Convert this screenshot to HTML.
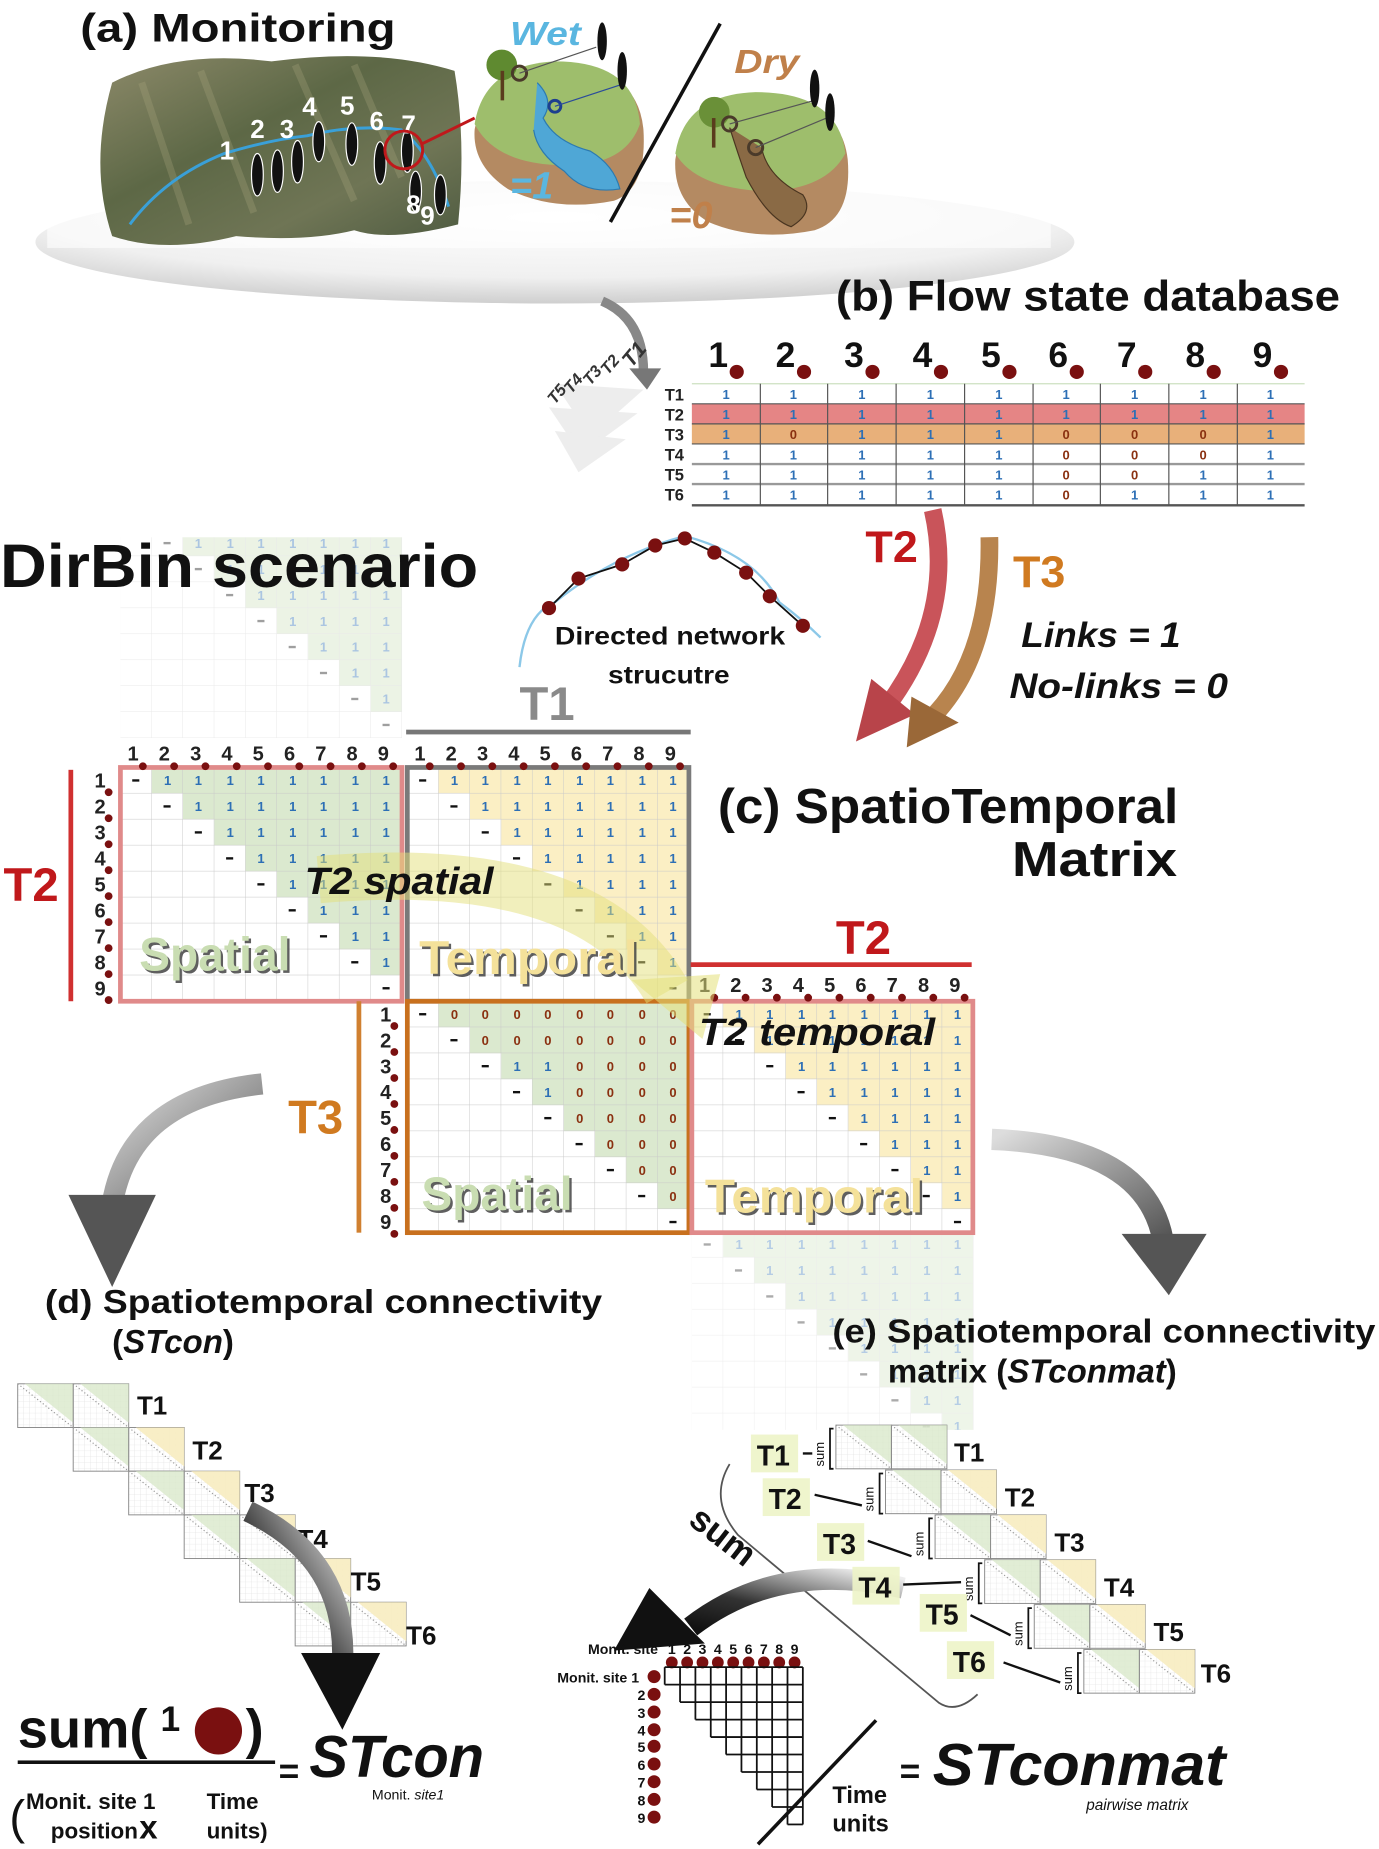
<!DOCTYPE html>
<html><head><meta charset="utf-8">
<style>
html,body{margin:0;padding:0;background:#fff;}
svg{display:block;}
text{font-family:"Liberation Sans",sans-serif;}
</style></head>
<body>
<svg width="1379" height="1849" viewBox="0 0 1168 1566" preserveAspectRatio="none" xmlns="http://www.w3.org/2000/svg">
<defs>
 <pattern id="gp" x="0" y="0" width="26.5" height="22" patternUnits="userSpaceOnUse">
  <path d="M26.5 0V22H0" fill="none" stroke="#c9c9c9" stroke-width="0.8"/>
 </pattern>
 <pattern id="gs" x="0" y="0" width="5" height="5" patternUnits="userSpaceOnUse">
  <path d="M5 0V5H0" fill="none" stroke="#ddd" stroke-width="0.5"/>
 </pattern>
 <path id="stair" d="M26.5,0 H238.5 V176 h-26.5 v-22 h-26.5 v-22 h-26.5 v-22 h-26.5 v-22 h-26.5 v-22 h-26.5 v-22 h-26.5 v-22 h-26.5 Z"/>
 <g id="grid"><rect width="238.5" height="198" fill="url(#gp)"/></g>
 <g id="dash" fill="#111">
  <rect x="10" y="10" width="6" height="2"/><rect x="36.5" y="32" width="6" height="2"/><rect x="63" y="54" width="6" height="2"/><rect x="89.5" y="76" width="6" height="2"/><rect x="116" y="98" width="6" height="2"/><rect x="142.5" y="120" width="6" height="2"/><rect x="169" y="142" width="6" height="2"/><rect x="195.5" y="164" width="6" height="2"/><rect x="222" y="186" width="6" height="2"/>
 </g>
 <g id="ones" font-size="11" font-weight="bold" fill="#2d6fb5" text-anchor="middle">
  <text x="40 66 93 119 146 172 199 225" y="15">11111111</text>
  <text x="66 93 119 146 172 199 225" y="37">1111111</text>
  <text x="93 119 146 172 199 225" y="59">111111</text>
  <text x="119 146 172 199 225" y="81">11111</text>
  <text x="146 172 199 225" y="103">1111</text>
  <text x="172 199 225" y="125">111</text>
  <text x="199 225" y="147">11</text>
  <text x="225" y="169">1</text>
 </g>
 <g id="hdr" font-size="17" font-weight="bold" fill="#222">
  <text x="6" y="0">1</text><text x="32.5" y="0">2</text><text x="59" y="0">3</text><text x="85.5" y="0">4</text><text x="112" y="0">5</text><text x="138.5" y="0">6</text><text x="165" y="0">7</text><text x="191.5" y="0">8</text><text x="218" y="0">9</text>
  <g fill="#7a1010"><circle cx="19" cy="5" r="3.3"/><circle cx="45.5" cy="5" r="3.3"/><circle cx="72" cy="5" r="3.3"/><circle cx="98.5" cy="5" r="3.3"/><circle cx="125" cy="5" r="3.3"/><circle cx="151.5" cy="5" r="3.3"/><circle cx="178" cy="5" r="3.3"/><circle cx="204.5" cy="5" r="3.3"/><circle cx="231" cy="5" r="3.3"/></g>
 </g>
 <g id="rows" font-size="17" font-weight="bold" fill="#222">
  <text x="0" y="17">1</text><text x="0" y="39">2</text><text x="0" y="61">3</text><text x="0" y="83">4</text><text x="0" y="105">5</text><text x="0" y="127">6</text><text x="0" y="149">7</text><text x="0" y="171">8</text><text x="0" y="193">9</text>
  <g fill="#7a1010"><circle cx="12" cy="21" r="3.3"/><circle cx="12" cy="43" r="3.3"/><circle cx="12" cy="65" r="3.3"/><circle cx="12" cy="87" r="3.3"/><circle cx="12" cy="109" r="3.3"/><circle cx="12" cy="131" r="3.3"/><circle cx="12" cy="153" r="3.3"/><circle cx="12" cy="175" r="3.3"/><circle cx="12" cy="197" r="3.3"/></g>
 </g>
 <g id="boxG"><rect width="47" height="37" fill="url(#gs)" stroke="#888" stroke-width="0.8"/><path d="M6,0 H47 V33 Z" fill="#d9e8cb" opacity="0.8"/><line x1="0" y1="0" x2="47" y2="37" stroke="#999" stroke-dasharray="1 2"/></g>
 <g id="boxY"><rect width="47" height="37" fill="url(#gs)" stroke="#888" stroke-width="0.8"/><path d="M6,0 H47 V33 Z" fill="#f7ecc0" opacity="0.9"/><line x1="0" y1="0" x2="47" y2="37" stroke="#999" stroke-dasharray="1 2"/></g>
 <linearGradient id="terr" x1="0" y1="0" x2="1" y2="1">
  <stop offset="0" stop-color="#8d8a6a"/><stop offset="0.4" stop-color="#5d6846"/><stop offset="0.7" stop-color="#6f7555"/><stop offset="1" stop-color="#4d5a40"/>
 </linearGradient>
 <radialGradient id="glow" cx="0.5" cy="0.3" r="0.7">
  <stop offset="0" stop-color="#fff"/><stop offset="0.7" stop-color="#f0f0f0"/><stop offset="1" stop-color="#cfcfcf"/>
 </radialGradient>
 <linearGradient id="grayar" x1="0" y1="0" x2="1" y2="1">
  <stop offset="0" stop-color="#ddd"/><stop offset="1" stop-color="#555"/>
 </linearGradient>
 <linearGradient id="blkar" x1="1" y1="0" x2="0" y2="1">
  <stop offset="0" stop-color="#eee"/><stop offset="0.6" stop-color="#333"/><stop offset="1" stop-color="#111"/>
 </linearGradient>
 <clipPath id="cTop"><rect x="95" y="455" width="250" height="170"/></clipPath>
 <clipPath id="cBot"><rect x="580" y="1046" width="250" height="165"/></clipPath>
</defs>

<!-- (a) Monitoring -->
<ellipse cx="470" cy="205" rx="440" ry="52" fill="url(#glow)"/>
<rect x="40" y="150" width="850" height="60" fill="#fff" opacity="0.6"/>
<path d="M95,70 Q150,42 230,52 Q320,40 385,60 Q395,120 388,190 Q330,205 300,195 Q260,205 200,200 Q140,215 95,200 Q75,140 95,70 Z" fill="url(#terr)"/>
<path d="M120,70 L160,190 M170,60 L215,180 M250,55 L300,170 M300,55 L340,150" stroke="#a9a57f" stroke-width="6" opacity="0.3" fill="none"/>
<path d="M110,190 Q140,150 190,130 Q230,118 260,115 Q300,105 340,110 Q365,130 380,175" stroke="#3aa0d8" stroke-width="2.5" fill="none"/>
<g fill="#111" stroke="#fff" stroke-width="1">
 <ellipse cx="218" cy="148" rx="5" ry="18"/><ellipse cx="235" cy="145" rx="5" ry="18"/><ellipse cx="252" cy="137" rx="5" ry="18"/><ellipse cx="270" cy="120" rx="5" ry="17"/><ellipse cx="298" cy="122" rx="5" ry="18"/><ellipse cx="322" cy="138" rx="5" ry="18"/><ellipse cx="345" cy="128" rx="5" ry="18"/><ellipse cx="352" cy="162" rx="5" ry="17"/><ellipse cx="373" cy="165" rx="5" ry="17"/>
</g>
<g font-size="22" font-weight="bold" fill="#fff">
 <text x="186" y="135">1</text><text x="212" y="117">2</text><text x="237" y="117">3</text><text x="256" y="98">4</text><text x="288" y="97">5</text><text x="313" y="110">6</text><text x="340" y="113">7</text><text x="344" y="181">8</text><text x="356" y="190">9</text>
</g>
<circle cx="342" cy="127" r="16" fill="none" stroke="#c0181b" stroke-width="2.5"/>
<line x1="357" y1="122" x2="402" y2="100" stroke="#c0181b" stroke-width="2.5"/>
<!-- wet island -->
<path d="M402,110 Q410,60 470,55 Q540,55 545,110 Q548,160 520,170 Q470,180 430,160 Q400,140 402,110 Z" fill="#b48a62"/>
<path d="M402,105 Q410,55 470,52 Q538,52 542,105 Q530,140 480,140 Q420,140 402,105 Z" fill="#9ebe6c"/>
<path d="M455,70 Q470,85 460,100 Q470,120 500,128 Q520,140 525,160 Q495,165 478,145 Q455,130 452,110" fill="#4fa7d6" stroke="#2c7ab0"/>
<circle cx="425" cy="55" r="13" fill="#5f8a30"/><rect x="424" y="60" width="3" height="25" fill="#5a3b1d"/>
<circle cx="440" cy="62" r="6" fill="none" stroke="#4a3a2a" stroke-width="2.5"/><circle cx="470" cy="90" r="5" fill="none" stroke="#1d3f8f" stroke-width="2.5"/>
<line x1="440" y1="62" x2="505" y2="40" stroke="#555"/><line x1="470" y1="90" x2="525" y2="72" stroke="#2a4b9b"/>
<ellipse cx="510" cy="35" rx="4" ry="16" fill="#111"/><ellipse cx="527" cy="60" rx="4" ry="16" fill="#111"/>
<text x="432" y="38" font-size="28" font-weight="bold" font-style="italic" fill="#5ab6e0" textLength="60" lengthAdjust="spacingAndGlyphs">Wet</text>
<text x="432" y="168" font-size="32" font-weight="bold" font-style="italic" fill="#5ab6e0">=1</text>
<line x1="517" y1="188" x2="610" y2="20" stroke="#111" stroke-width="3"/>
<!-- dry island -->
<path d="M572,135 Q580,85 640,82 Q712,82 718,135 Q722,185 690,195 Q640,205 600,188 Q570,170 572,135 Z" fill="#b48a62"/>
<path d="M572,130 Q580,80 640,78 Q710,78 716,130 Q700,160 650,162 Q590,160 572,130 Z" fill="#9ebe6c"/>
<path d="M618,108 Q625,130 632,150 Q650,185 670,192 Q690,180 680,165 Q650,150 645,125" fill="#8a6a45" stroke="#4a3520"/>
<circle cx="605" cy="95" r="13" fill="#6a9038"/><rect x="603" y="100" width="3" height="25" fill="#5a3b1d"/>
<circle cx="618" cy="105" r="6" fill="none" stroke="#4a3a2a" stroke-width="2.5"/><circle cx="640" cy="125" r="6" fill="none" stroke="#4a3a2a" stroke-width="2.5"/>
<line x1="618" y1="105" x2="690" y2="85" stroke="#555"/><line x1="640" y1="125" x2="700" y2="100" stroke="#555"/>
<ellipse cx="690" cy="75" rx="4" ry="16" fill="#111"/><ellipse cx="703" cy="95" rx="4" ry="16" fill="#111"/>
<text x="622" y="62" font-size="28" font-weight="bold" font-style="italic" fill="#c0804a" textLength="55" lengthAdjust="spacingAndGlyphs">Dry</text>
<text x="567" y="193" font-size="32" font-weight="bold" font-style="italic" fill="#c0804a">=0</text>
<text x="68" y="35" font-size="34" font-weight="bold" fill="#111" textLength="267" lengthAdjust="spacingAndGlyphs">(a) Monitoring</text>

<!-- (b) -->
<text x="708" y="263" font-size="36" font-weight="bold" fill="#111" textLength="427" lengthAdjust="spacingAndGlyphs">(b) Flow state database</text>
<path d="M510,255 Q545,270 545,315" stroke="#888" stroke-width="8" fill="none"/>
<polygon points="533,312 560,312 548,330" fill="#777"/>
<g opacity="0.35" fill="#ccc"><polygon points="470,325 545,330 500,370"/><polygon points="465,345 540,350 492,385"/><polygon points="470,365 530,372 490,400"/></g>
<g font-size="14" font-style="italic" font-weight="bold" fill="#333">
 <text x="535" y="312" transform="rotate(-50 535 312)" font-size="18">T1</text>
 <text x="515" y="318" transform="rotate(-50 515 318)">T2</text>
 <text x="500" y="327" transform="rotate(-50 500 327)">T3</text>
 <text x="484" y="334" transform="rotate(-50 484 334)">T4</text>
 <text x="470" y="343" transform="rotate(-50 470 343)">T5</text>
</g>
<g font-size="30" font-weight="bold" fill="#111">
 <text x="600" y="311">1</text><text x="657" y="311">2</text><text x="715" y="311">3</text><text x="773" y="311">4</text><text x="831" y="311">5</text><text x="888" y="311">6</text><text x="946" y="311">7</text><text x="1004" y="311">8</text><text x="1061" y="311">9</text>
</g>
<g fill="#7a1010"><circle cx="624" cy="315" r="6"/><circle cx="681" cy="315" r="6"/><circle cx="739" cy="315" r="6"/><circle cx="797" cy="315" r="6"/><circle cx="855" cy="315" r="6"/><circle cx="912" cy="315" r="6"/><circle cx="970" cy="315" r="6"/><circle cx="1028" cy="315" r="6"/><circle cx="1085" cy="315" r="6"/></g>
<rect x="586" y="342" width="519" height="17" fill="#e58585"/>
<rect x="586" y="359" width="519" height="17" fill="#e8b07a"/>
<g stroke="#555" stroke-width="1">
 <line x1="586" y1="325" x2="1105" y2="325" stroke="#cde0c0"/><line x1="586" y1="342" x2="1105" y2="342"/><line x1="586" y1="359" x2="1105" y2="359"/><line x1="586" y1="376" x2="1105" y2="376"/><line x1="586" y1="393" x2="1105" y2="393" stroke="#999" stroke-width="2"/><line x1="586" y1="410" x2="1105" y2="410" stroke="#999" stroke-width="2"/><line x1="586" y1="428" x2="1105" y2="428" stroke-width="2"/>
 <line x1="644" y1="325" x2="644" y2="428"/><line x1="701" y1="325" x2="701" y2="428"/><line x1="759" y1="325" x2="759" y2="428"/><line x1="817" y1="325" x2="817" y2="428"/><line x1="875" y1="325" x2="875" y2="428"/><line x1="932" y1="325" x2="932" y2="428"/><line x1="990" y1="325" x2="990" y2="428"/><line x1="1048" y1="325" x2="1048" y2="428"/>
</g>
<g font-size="14" font-weight="bold" fill="#222">
 <text x="563" y="339">T1</text><text x="563" y="356">T2</text><text x="563" y="373">T3</text><text x="563" y="390">T4</text><text x="563" y="407">T5</text><text x="563" y="424">T6</text>
</g>
<g font-size="11" font-weight="bold" text-anchor="middle">
 <text x="615 672 730 788 846 903 961 1019 1076" y="338" fill="#2d6fb5">111111111</text>
 <text x="615 672 730 788 846 903 961 1019 1076" y="355" fill="#2d6fb5">111111111</text>
 <text x="615 730 788 846 1076" y="372" fill="#2d6fb5">11111</text><text x="672 903 961 1019" y="372" fill="#8a3010">0000</text>
 <text x="615 672 730 788 846 1076" y="389" fill="#2d6fb5">111111</text><text x="903 961 1019" y="389" fill="#8a3010">000</text>
 <text x="615 672 730 788 846 1019 1076" y="406" fill="#2d6fb5">1111111</text><text x="903 961" y="406" fill="#8a3010">00</text>
 <text x="615 672 730 788 846 961 1019 1076" y="423" fill="#2d6fb5">11111111</text><text x="903" y="423" fill="#8a3010">0</text>
</g>

<!-- red/brown arrows -->
<path d="M790,432 Q810,520 750,600" stroke="#c9545a" stroke-width="15" fill="none"/>
<polygon points="725,628 738,575 775,605" fill="#b8444a"/>
<path d="M838,455 Q840,560 785,612" stroke="#b8844e" stroke-width="15" fill="none"/>
<polygon points="768,633 772,590 812,612" fill="#9a6838"/>
<text x="733" y="476" font-size="38" font-weight="bold" fill="#c0181b">T2</text>
<text x="858" y="497" font-size="38" font-weight="bold" fill="#d07a20">T3</text>
<text x="865" y="548" font-size="30" font-weight="bold" font-style="italic" fill="#111" textLength="135" lengthAdjust="spacingAndGlyphs">Links = 1</text>
<text x="855" y="591" font-size="30" font-weight="bold" font-style="italic" fill="#111" textLength="185" lengthAdjust="spacingAndGlyphs">No-links = 0</text>

<!-- directed network -->
<path d="M440,565 Q445,520 470,510 Q520,470 580,454 Q640,470 660,510 Q680,525 695,540" stroke="#8cc8e8" stroke-width="2" fill="none"/>
<g stroke="#111" stroke-width="1.5"><polyline points="465,515 490,490 527,478 555,462 580,456 605,468 632,485 652,505 680,530" fill="none"/></g>
<g fill="#7a1010"><circle cx="465" cy="515" r="6"/><circle cx="490" cy="490" r="6"/><circle cx="527" cy="478" r="6"/><circle cx="555" cy="462" r="6"/><circle cx="580" cy="456" r="6"/><circle cx="605" cy="468" r="6"/><circle cx="632" cy="485" r="6"/><circle cx="652" cy="505" r="6"/><circle cx="680" cy="530" r="6"/></g>
<text x="470" y="546" font-size="21" font-weight="bold" fill="#111" textLength="195" lengthAdjust="spacingAndGlyphs">Directed network</text>
<text x="515" y="579" font-size="21" font-weight="bold" fill="#111" textLength="103" lengthAdjust="spacingAndGlyphs">strucutre</text>

<!-- faded top matrix -->
<g clip-path="url(#cTop)" opacity="0.4"><g transform="translate(102,427)"><use href="#stair" fill="#cfe2bf"/><use href="#grid"/><use href="#dash"/><use href="#ones"/></g></g>
<!-- faded bottom matrix -->
<g clip-path="url(#cBot)" opacity="0.35"><g transform="translate(586,1043)"><use href="#stair" fill="#cfe2bf"/><use href="#grid"/><use href="#dash"/><use href="#ones"/></g></g>

<text x="0" y="497" font-size="52" font-weight="bold" fill="#111" textLength="405" lengthAdjust="spacingAndGlyphs">DirBin scenario</text>

<!-- Matrix A -->
<g transform="translate(102,650)"><use href="#stair" fill="#dbe9cf"/><use href="#grid"/><use href="#dash"/><use href="#ones"/><rect width="238.5" height="198" fill="none" stroke="#e08a8a" stroke-width="4"/></g>
<!-- Matrix B -->
<g transform="translate(345,650)"><use href="#stair" fill="#fbefc4"/><use href="#grid"/><use href="#dash"/><use href="#ones"/><rect width="238.5" height="198" fill="none" stroke="#7a7a7a" stroke-width="4"/></g>
<!-- Matrix C -->
<g transform="translate(345,848)"><use href="#stair" fill="#dbe9cf"/><use href="#grid"/><use href="#dash"/>
 <g font-size="11" font-weight="bold" text-anchor="middle">
  <text x="40 66 93 119 146 172 199 225" y="15" fill="#8a3010">00000000</text>
  <text x="66 93 119 146 172 199 225" y="37" fill="#8a3010">0000000</text>
  <text x="93 119" y="59" fill="#2d6fb5">11</text><text x="146 172 199 225" y="59" fill="#8a3010">0000</text>
  <text x="119" y="81" fill="#2d6fb5">1</text><text x="146 172 199 225" y="81" fill="#8a3010">0000</text>
  <text x="146 172 199 225" y="103" fill="#8a3010">0000</text>
  <text x="172 199 225" y="125" fill="#8a3010">000</text>
  <text x="199 225" y="147" fill="#8a3010">00</text>
  <text x="225" y="169" fill="#8a3010">0</text>
 </g>
 <rect width="238.5" height="196" fill="none" stroke="#c8701e" stroke-width="4"/></g>
<!-- Matrix D -->
<g transform="translate(586,848)"><use href="#stair" fill="#fbefc4"/><use href="#grid"/><use href="#dash"/><use href="#ones"/><rect width="238" height="196" fill="none" stroke="#e08a8a" stroke-width="4"/></g>

<use href="#hdr" x="102" y="644"/>
<use href="#hdr" x="345" y="644"/>
<use href="#hdr" x="586" y="840"/>
<use href="#rows" x="80" y="650"/>
<use href="#rows" x="322" y="848"/>

<rect x="58" y="652" width="4" height="196" fill="#d03030"/>
<text x="3" y="763" font-size="40" font-weight="bold" fill="#c0181b">T2</text>
<rect x="302" y="848" width="4" height="196" fill="#d08030"/>
<text x="244" y="960" font-size="40" font-weight="bold" fill="#d07a20">T3</text>
<rect x="344" y="618" width="241" height="4" fill="#777"/>
<text x="440" y="610" font-size="40" font-weight="bold" fill="#8a8a8a">T1</text>
<rect x="585" y="815" width="238" height="4" fill="#d03030"/>
<text x="708" y="808" font-size="40" font-weight="bold" fill="#c0181b">T2</text>

<!-- yellow arrow -->
<path d="M270,745 Q500,725 565,840" stroke="#e4e07a" stroke-width="40" fill="none" opacity="0.5"/>
<polygon points="535,830 610,825 595,880" fill="#e4e07a" opacity="0.55"/>

<text x="258" y="757" font-size="32" font-weight="bold" font-style="italic" fill="#111" textLength="160" lengthAdjust="spacingAndGlyphs">T2 spatial</text>
<text x="592" y="885" font-size="32" font-weight="bold" font-style="italic" fill="#111" textLength="200" lengthAdjust="spacingAndGlyphs">T2 temporal</text>
<g font-size="40" font-weight="bold" fill="#444" opacity="0.85">
 <text x="120" y="824" textLength="128" lengthAdjust="spacingAndGlyphs">Spatial</text>
 <text x="357" y="827" textLength="185" lengthAdjust="spacingAndGlyphs">Temporal</text>
 <text x="359" y="1027" textLength="128" lengthAdjust="spacingAndGlyphs">Spatial</text>
 <text x="599" y="1029" textLength="185" lengthAdjust="spacingAndGlyphs">Temporal</text>
</g>
<g font-size="40" font-weight="bold">
 <text x="118" y="822" fill="#c9ddb2" textLength="128" lengthAdjust="spacingAndGlyphs">Spatial</text>
 <text x="355" y="825" fill="#f4e19a" textLength="185" lengthAdjust="spacingAndGlyphs">Temporal</text>
 <text x="357" y="1025" fill="#c9ddb2" textLength="128" lengthAdjust="spacingAndGlyphs">Spatial</text>
 <text x="597" y="1027" fill="#f4e19a" textLength="185" lengthAdjust="spacingAndGlyphs">Temporal</text>
</g>

<text x="608" y="697" font-size="42" font-weight="bold" fill="#111" textLength="390" lengthAdjust="spacingAndGlyphs">(c) SpatioTemporal</text>
<text x="857" y="742" font-size="42" font-weight="bold" fill="#111" textLength="140" lengthAdjust="spacingAndGlyphs">Matrix</text>

<!-- gray arrows -->
<path d="M222,918 Q110,930 95,1020" stroke="url(#grayar)" stroke-width="18" fill="none"/>
<polygon points="58,1012 132,1012 95,1090" fill="#555"/>
<path d="M840,965 Q970,970 985,1050" stroke="url(#grayar)" stroke-width="18" fill="none"/>
<polygon points="950,1045 1022,1045 990,1097" fill="#555"/>

<!-- (d) -->
<text x="38" y="1112" font-size="28" font-weight="bold" fill="#111" textLength="472" lengthAdjust="spacingAndGlyphs">(d) Spatiotemporal connectivity</text>
<text x="95" y="1146" font-size="28" font-weight="bold" fill="#111">(<tspan font-style="italic">STcon</tspan>)</text>
<g>
 <use href="#boxG" x="15" y="1172"/><use href="#boxG" x="62" y="1172"/>
 <use href="#boxG" x="62" y="1209"/><use href="#boxY" x="109" y="1209"/>
 <use href="#boxG" x="109" y="1246"/><use href="#boxY" x="156" y="1246"/>
 <use href="#boxG" x="156" y="1283"/><use href="#boxY" x="203" y="1283"/>
 <use href="#boxG" x="203" y="1320"/><use href="#boxY" x="250" y="1320"/>
 <use href="#boxG" x="250" y="1357"/><use href="#boxY" x="297" y="1357"/>
</g>
<g font-size="22" font-weight="bold" fill="#111">
 <text x="116" y="1198">T1</text><text x="163" y="1236">T2</text><text x="207" y="1272">T3</text><text x="252" y="1311">T4</text><text x="297" y="1347">T5</text><text x="344" y="1393">T6</text>
</g>
<path d="M210,1280 Q295,1320 290,1410" stroke="url(#blkar)" stroke-width="18" fill="none"/>
<polygon points="255,1400 322,1400 290,1465" fill="#111"/>
<text x="15" y="1480" font-size="46" font-weight="bold" fill="#111">sum(</text>
<text x="136" y="1466" font-size="30" font-weight="bold" fill="#111">1</text>
<circle cx="185" cy="1466" r="20" fill="#7a1010"/>
<text x="208" y="1480" font-size="46" font-weight="bold" fill="#111">)</text>
<rect x="15" y="1491" width="218" height="3" fill="#111"/>
<text x="8" y="1553" font-size="40" fill="#111">(</text>
<text x="22" y="1532" font-size="19" font-weight="bold" fill="#111">Monit. site 1</text>
<text x="43" y="1557" font-size="19" font-weight="bold" fill="#111">position</text>
<text x="118" y="1557" font-size="28" font-weight="bold" fill="#111">x</text>
<text x="175" y="1532" font-size="19" font-weight="bold" fill="#111">Time</text>
<text x="175" y="1557" font-size="19" font-weight="bold" fill="#111">units)</text>
<text x="236" y="1510" font-size="30" font-weight="bold" fill="#111">=</text>
<text x="262" y="1505" font-size="50" font-weight="bold" font-style="italic" fill="#111" textLength="148" lengthAdjust="spacingAndGlyphs">STcon</text>
<text x="315" y="1524" font-size="12" fill="#111">Monit. <tspan font-style="italic">site1</tspan></text>

<!-- (e) -->
<text x="705" y="1137" font-size="28" font-weight="bold" fill="#111" textLength="460" lengthAdjust="spacingAndGlyphs">(e) Spatiotemporal connectivity</text>
<text x="752" y="1171" font-size="28" font-weight="bold" fill="#111">matrix (<tspan font-style="italic">STconmat</tspan>)</text>
<g>
 <use href="#boxG" x="708" y="1207"/><use href="#boxG" x="755" y="1207"/>
 <use href="#boxG" x="750" y="1245"/><use href="#boxY" x="797" y="1245"/>
 <use href="#boxG" x="792" y="1283"/><use href="#boxY" x="839" y="1283"/>
 <use href="#boxG" x="834" y="1321"/><use href="#boxY" x="881" y="1321"/>
 <use href="#boxG" x="876" y="1359"/><use href="#boxY" x="923" y="1359"/>
 <use href="#boxG" x="918" y="1397"/><use href="#boxY" x="965" y="1397"/>
</g>
<g font-size="22" font-weight="bold" fill="#111">
 <text x="808" y="1238">T1</text><text x="851" y="1276">T2</text><text x="893" y="1314">T3</text><text x="935" y="1352">T4</text><text x="977" y="1390">T5</text><text x="1017" y="1425">T6</text>
</g>
<g stroke="#111" stroke-width="1.5" fill="none">
 <path d="M706,1210 h-3 v34 h3"/><path d="M748,1248 h-3 v34 h3"/><path d="M790,1286 h-3 v34 h3"/><path d="M832,1324 h-3 v34 h3"/><path d="M874,1362 h-3 v34 h3"/><path d="M916,1400 h-3 v34 h3"/>
</g>
<g font-size="11" fill="#111">
 <text x="0" y="0" transform="translate(698,1242) rotate(-90)">sum</text>
 <text x="0" y="0" transform="translate(740,1280) rotate(-90)">sum</text>
 <text x="0" y="0" transform="translate(782,1318) rotate(-90)">sum</text>
 <text x="0" y="0" transform="translate(824,1356) rotate(-90)">sum</text>
 <text x="0" y="0" transform="translate(866,1394) rotate(-90)">sum</text>
 <text x="0" y="0" transform="translate(908,1432) rotate(-90)">sum</text>
</g>
<path d="M618,1240 Q600,1270 625,1300 L795,1442 Q810,1452 828,1435" stroke="#555" stroke-width="1.5" fill="none"/>
<text x="0" y="0" font-size="30" font-weight="bold" fill="#111" transform="translate(582,1290) rotate(38)">sum</text>
<path d="M765,1345 Q660,1320 585,1378" stroke="url(#blkar)" stroke-width="18" fill="none"/>
<polygon points="550,1345 597,1392 520,1398" fill="#111"/>
<g fill="#eef4c8" opacity="0.9"><rect x="636" y="1215" width="40" height="32"/><rect x="646" y="1252" width="40" height="32"/><rect x="692" y="1290" width="40" height="32"/><rect x="722" y="1327" width="40" height="32"/><rect x="779" y="1350" width="40" height="32"/><rect x="802" y="1390" width="40" height="32"/></g>
<g font-size="24" font-weight="bold" fill="#111">
 <text x="641" y="1241">T1</text><text x="651" y="1278">T2</text><text x="697" y="1316">T3</text><text x="727" y="1353">T4</text><text x="784" y="1376">T5</text><text x="807" y="1416">T6</text>
</g>
<g stroke="#111" stroke-width="2">
 <line x1="688" y1="1231" x2="680" y2="1231"/><line x1="730" y1="1275" x2="690" y2="1266"/><line x1="772" y1="1318" x2="735" y2="1305"/><line x1="814" y1="1340" x2="765" y2="1342"/><line x1="856" y1="1385" x2="822" y2="1368"/><line x1="898" y1="1425" x2="850" y2="1408"/>
</g>

<!-- triangle matrix -->
<text x="498" y="1401" font-size="12" font-weight="bold" fill="#111">Monit. site</text>
<g font-size="12" font-weight="bold" fill="#111" text-anchor="middle"><text x="569 582 595 608 621 634 647 660 673" y="1401">123456789</text></g>
<g fill="#7a1010"><circle cx="569" cy="1408" r="5"/><circle cx="582" cy="1408" r="5"/><circle cx="595" cy="1408" r="5"/><circle cx="608" cy="1408" r="5"/><circle cx="621" cy="1408" r="5"/><circle cx="634" cy="1408" r="5"/><circle cx="647" cy="1408" r="5"/><circle cx="660" cy="1408" r="5"/><circle cx="673" cy="1408" r="5"/></g>
<text x="472" y="1425" font-size="12" font-weight="bold" fill="#111">Monit. site 1</text>
<g font-size="12" font-weight="bold" fill="#111"><text x="540" y="1440">2</text><text x="540" y="1455">3</text><text x="540" y="1470">4</text><text x="540" y="1484">5</text><text x="540" y="1499">6</text><text x="540" y="1514">7</text><text x="540" y="1529">8</text><text x="540" y="1544">9</text></g>
<g fill="#7a1010"><circle cx="554" cy="1420" r="5.5"/><circle cx="554" cy="1435" r="5.5"/><circle cx="554" cy="1450" r="5.5"/><circle cx="554" cy="1465" r="5.5"/><circle cx="554" cy="1479" r="5.5"/><circle cx="554" cy="1494" r="5.5"/><circle cx="554" cy="1509" r="5.5"/><circle cx="554" cy="1524" r="5.5"/><circle cx="554" cy="1539" r="5.5"/></g>
<g stroke="#111" stroke-width="1.5">
 <line x1="563" y1="1412" x2="680" y2="1412"/><line x1="563" y1="1426.8" x2="680" y2="1426.8"/><line x1="576" y1="1441.6" x2="680" y2="1441.6"/><line x1="589" y1="1456.4" x2="680" y2="1456.4"/><line x1="602" y1="1471.2" x2="680" y2="1471.2"/><line x1="615" y1="1486" x2="680" y2="1486"/><line x1="628" y1="1500.8" x2="680" y2="1500.8"/><line x1="641" y1="1515.6" x2="680" y2="1515.6"/><line x1="654" y1="1530.4" x2="680" y2="1530.4"/><line x1="667" y1="1545.2" x2="680" y2="1545.2"/>
 <line x1="563" y1="1412" x2="563" y2="1426.8"/><line x1="576" y1="1412" x2="576" y2="1441.6"/><line x1="589" y1="1412" x2="589" y2="1456.4"/><line x1="602" y1="1412" x2="602" y2="1471.2"/><line x1="615" y1="1412" x2="615" y2="1486"/><line x1="628" y1="1412" x2="628" y2="1500.8"/><line x1="641" y1="1412" x2="641" y2="1515.6"/><line x1="654" y1="1412" x2="654" y2="1530.4"/><line x1="667" y1="1412" x2="667" y2="1545.2"/><line x1="680" y1="1412" x2="680" y2="1545.2"/>
</g>
<line x1="642" y1="1562" x2="742" y2="1457" stroke="#111" stroke-width="3"/>
<text x="705" y="1527" font-size="20" font-weight="bold" fill="#111">Time</text>
<text x="705" y="1551" font-size="20" font-weight="bold" fill="#111">units</text>
<text x="762" y="1510" font-size="30" font-weight="bold" fill="#111">=</text>
<text x="790" y="1512" font-size="50" font-weight="bold" font-style="italic" fill="#111" textLength="248" lengthAdjust="spacingAndGlyphs">STconmat</text>
<text x="920" y="1533" font-size="13" font-style="italic" fill="#111">pairwise matrix</text>
</svg>
</body></html>
